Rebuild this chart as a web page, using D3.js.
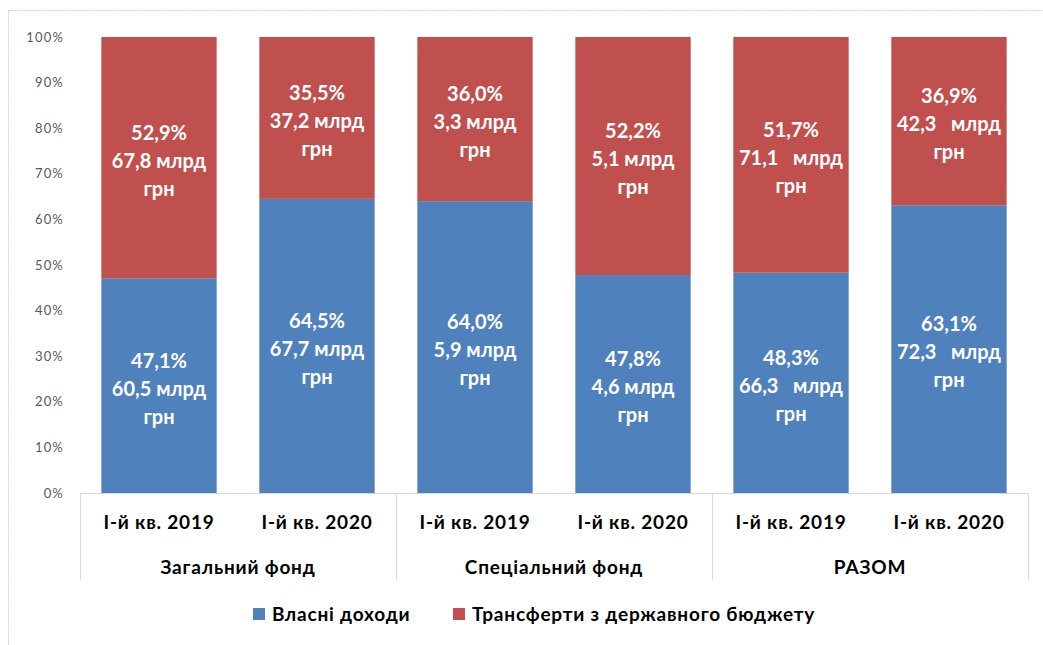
<!DOCTYPE html>
<html>
<head>
  <meta charset="utf-8">
  <title>Власні доходи і трансферти</title>
  <script src="https://d3js.org/d3.v7.min.js"></script>
  <style>
    body { margin: 0; background: #fff; }
    svg text { font-family: Lato, "Noto Sans", sans-serif; }
    .tick-y { font-size: 13px; fill: #595959; letter-spacing: 1.2px; }
    .cat { font-size: 19px; font-weight: bold; fill: #000; letter-spacing: 0.8px; }
    .seg-label { font-size: 20px; font-weight: bold; fill: #fff; white-space: pre; }
  </style>
</head>
<body>
  <svg id="chart" width="1043" height="645"></svg>

  <script>
    // chart data
    const groups = ["Загальний фонд", "Спеціальний фонд", "РАЗОМ"];
    const periods = ["І-й кв. 2019", "І-й кв. 2020"];
    const seriesNames = ["Власні доходи", "Трансферти з державного бюджету"];
    const ownShare = [47.1, 64.5, 64.0, 47.8, 48.3, 63.1];
    const transferShare = [52.9, 35.5, 36.0, 52.2, 51.7, 36.9];
    const ownLabel = ["60,5 млрд", "67,7 млрд", "5,9 млрд", "4,6 млрд", "66,3   млрд", "72,3   млрд"];
    const transferLabel = ["67,8 млрд", "37,2 млрд", "3,3 млрд", "5,1 млрд", "71,1   млрд", "42,3   млрд"];
    const yTicks = [0, 10, 20, 30, 40, 50, 60, 70, 80, 90, 100];

    const colors = ["#4f81bd", "#c0504d"];

    const svg = d3.select("#chart");

    // outer chart border (dotted, as in the office export)
    svg.append("rect")
      .attr("x", 8.5).attr("y", 10.5)
      .attr("width", 1060).attr("height", 660)
      .attr("fill", "none")
      .attr("stroke", "#d0d0d0")
      .attr("stroke-dasharray", "2,1");

    const plotLeft = 80, plotRight = 1028, plotTop = 37, plotBottom = 493;

    // one slot per bar: group index * 2 + period index
    const rows = [];
    groups.forEach((g, gi) => {
      periods.forEach((p, pi) => {
        const i = gi * periods.length + pi;
        rows.push({
          i: i, group: g, period: p,
          own: ownShare[i], transfer: transferShare[i],
          ownText: ownLabel[i], transferText: transferLabel[i]
        });
      });
    });

    const x = d3.scaleBand()
      .domain(rows.map(d => d.i))
      .range([plotLeft, plotRight])
      .paddingInner(0.27)
      .paddingOuter(0.135);

    const y = d3.scaleLinear()
      .domain([0, 100])
      .range([plotBottom, plotTop]);

    // y axis labels (no axis line, no gridlines)
    svg.selectAll(".tick-y")
      .data(yTicks)
      .enter().append("text")
      .attr("class", "tick-y")
      .attr("x", 64)
      .attr("y", d => y(d))
      .attr("dy", "0.35em")
      .attr("text-anchor", "end")
      .text(d => d + "%");

    // stacked bars
    const stack = d3.stack().keys(["own", "transfer"]);
    const layers = stack(rows);

    svg.selectAll(".layer")
      .data(layers)
      .enter().append("g")
      .attr("class", "layer")
      .attr("fill", (d, k) => colors[k])
      .selectAll("rect")
      .data(d => d)
      .enter().append("rect")
      .attr("x", d => x(d.data.i))
      .attr("y", d => y(d[1]))
      .attr("width", x.bandwidth())
      .attr("height", d => y(d[0]) - y(d[1]));

    // segment labels: share, amount, currency
    layers.forEach((layer, k) => {
      layer.forEach(d => {
        const share = k === 0 ? d.data.own : d.data.transfer;
        const amount = k === 0 ? d.data.ownText : d.data.transferText;
        const lines = [share.toFixed(1).replace(".", ",") + "%", amount, "грн"];
        const cx = x(d.data.i) + x.bandwidth() / 2;
        const cy = (y(d[0]) + y(d[1])) / 2 + 3;
        const t = svg.append("text")
          .attr("class", "seg-label")
          .attr("text-anchor", "middle")
          .attr("x", cx)
          .attr("y", cy);
        lines.forEach((line, li) => {
          t.append("tspan")
            .attr("x", cx)
            .attr("y", cy + (li - 1) * 28)
            .attr("dy", "0.35em")
            .text(line);
        });
      });
    });

    // category axis: baseline and group dividers
    const axisColor = "#d9d9d9";
    svg.append("line")
      .attr("x1", plotLeft).attr("x2", plotRight)
      .attr("y1", plotBottom + 0.5).attr("y2", plotBottom + 0.5)
      .attr("stroke", axisColor);

    const dividers = d3.range(groups.length + 1).map(g =>
      g < groups.length ? x(g * periods.length) - x.step() * x.paddingOuter() : plotRight);
    svg.selectAll(".divider")
      .data(dividers)
      .enter().append("line")
      .attr("class", "divider")
      .attr("x1", d => Math.round(d) + 0.5).attr("x2", d => Math.round(d) + 0.5)
      .attr("y1", plotBottom).attr("y2", 580)
      .attr("stroke", axisColor);

    // period labels
    svg.selectAll(".period")
      .data(rows)
      .enter().append("text")
      .attr("class", "cat period")
      .attr("x", d => x(d.i) + x.bandwidth() / 2)
      .attr("y", 522)
      .attr("dy", "0.35em")
      .attr("text-anchor", "middle")
      .text(d => d.period);

    // group labels
    svg.selectAll(".group")
      .data(groups)
      .enter().append("text")
      .attr("class", "cat group")
      .attr("x", (d, gi) => (dividers[gi] + dividers[gi + 1]) / 2)
      .attr("y", 567)
      .attr("dy", "0.35em")
      .attr("text-anchor", "middle")
      .text(d => d);

    // legend
    const legendX = [253, 453];
    const legend = svg.selectAll(".legend")
      .data(seriesNames)
      .enter().append("g")
      .attr("class", "legend")
      .attr("transform", (d, k) => `translate(${legendX[k]},614)`);

    legend.append("rect")
      .attr("x", 0).attr("y", -6)
      .attr("width", 12).attr("height", 12)
      .attr("fill", (d, k) => colors[k]);

    legend.append("text")
      .attr("class", "cat")
      .attr("x", 19)
      .attr("dy", "0.35em")
      .text(d => d);
  </script>
</body>
</html>
